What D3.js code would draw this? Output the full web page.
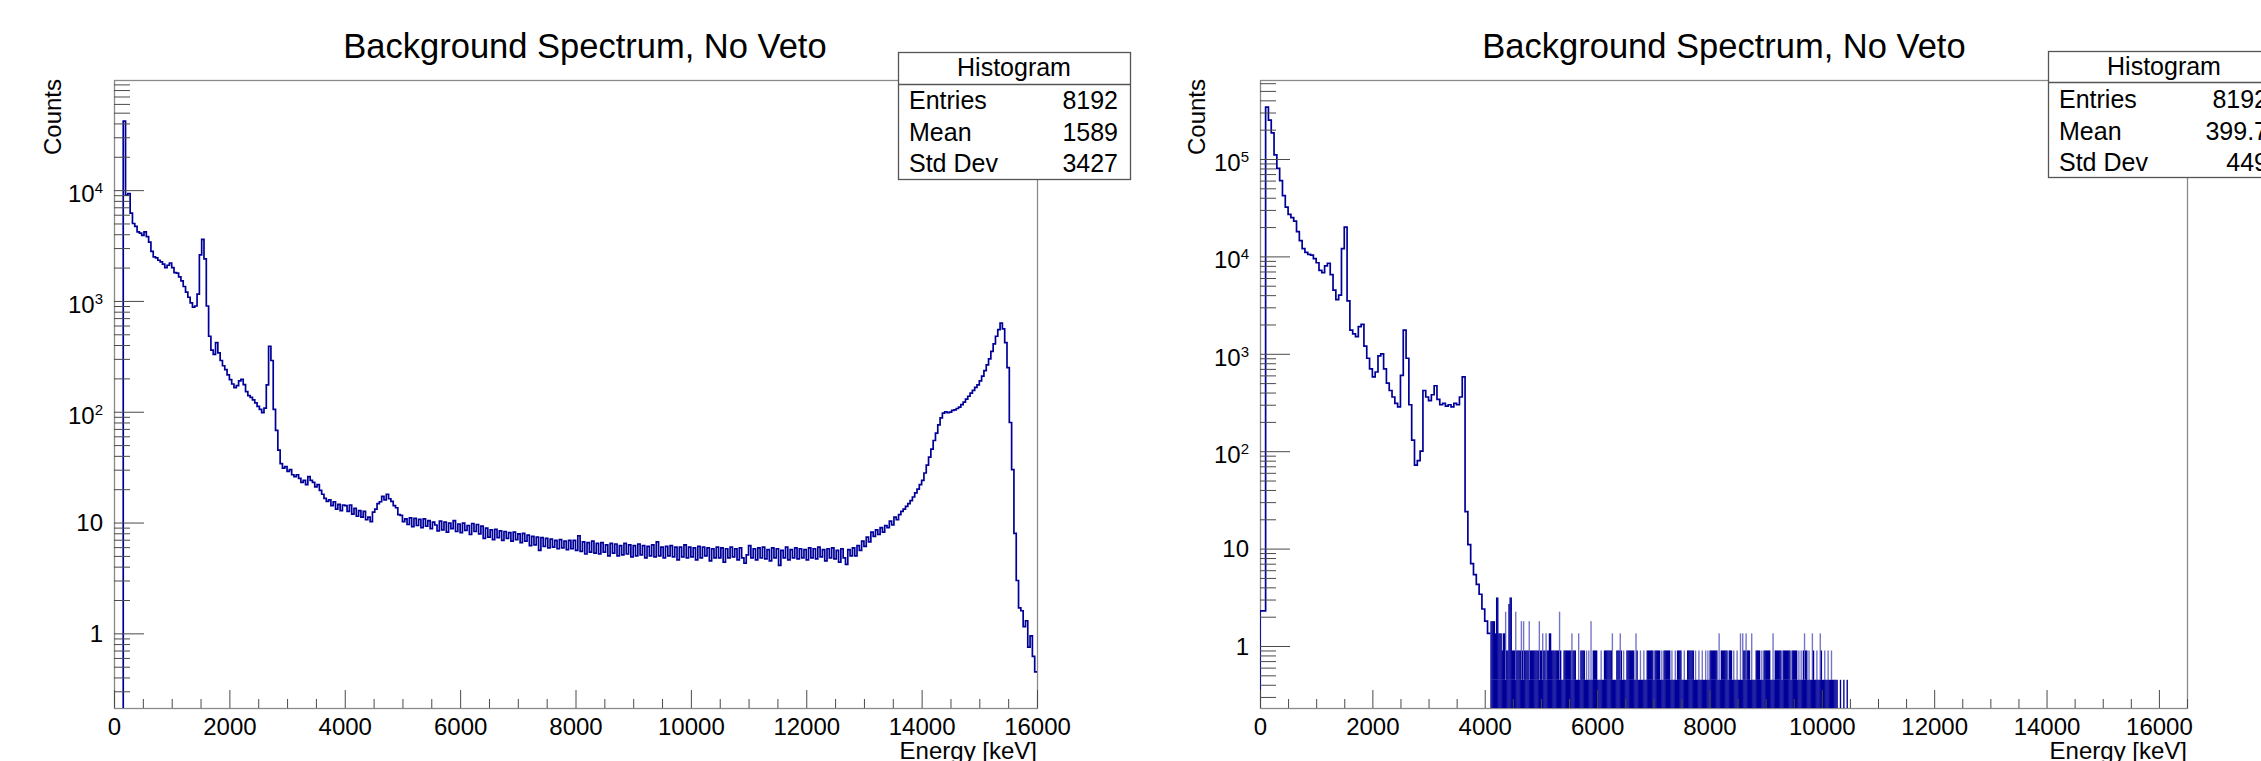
<!DOCTYPE html>
<html><head><meta charset="utf-8">
<script src="https://cdn.jsdelivr.net/npm/d3@7"></script>
<style>
html,body{margin:0;padding:0;background:#fff;}
svg{display:block;}
text{font-family:"Liberation Sans",Arial,Helvetica,sans-serif;fill:#000;}
</style></head><body>
<svg id="c" width="2261" height="761"></svg>
<script>
// ---------------- DATA ----------------
const chartTitle = "Background Spectrum, No Veto";
const xAxisTitle = "Energy [keV]";
const yAxisTitle = "Counts";
const statsHeader = "Histogram";
const xMajorTicks = [0, 2000, 4000, 6000, 8000, 10000, 12000, 14000, 16000];
const xTickLabels = ["0", "2000", "4000", "6000", "8000", "10000", "12000", "14000", "16000"];
const leftYMajor = [1, 10, 100, 1000, 10000];
const rightYMajor = [1, 10, 100, 1000, 10000, 100000];

// Left spectrum (no veto): 40 keV bins from 0 to 16000 keV
const leftBinWidth = 40;
const leftCounts = [
  0,0,0,0,42000,9000,9300,6200,5000,4700,4200,4100,3900,4200,3800,3400,2800,2500,2450,2330,
  2250,2150,2000,2100,2200,2000,1800,1780,1650,1520,1350,1200,1080,960,880,900,1150,2600,3600,2400,
  900,480,360,330,420,340,290,260,240,215,195,178,165,172,190,196,176,152,140,135,
  128,120,112,105,98,108,175,390,290,105,68,45,34,31,32,29,30,27,26,27,
  25,23,24,22,26,24,23,21,22,19.5,18,16.5,15.5,16,14.2,15.4,13.2,14.6,12.8,14.4,
  14.2,12.6,14.4,11.9,13.4,11.4,12.8,11.2,12.6,10.6,11.2,10.2,12.4,13.2,14.8,15.4,17.2,16.0,18.0,16.4,
  15.5,14.2,13.6,11.8,11.6,10.2,10.8,9.6,11.0,9.2,10.9,9.4,10.7,9.0,10.8,9.3,10.4,8.8,10.1,9.5,
  8.4,10.3,8.6,10.1,8.2,9.9,8.8,10.4,8.3,9.7,8.1,9.9,8.5,9.4,7.8,9.8,8.3,9.6,7.9,9.3,
  7.2,8.9,7.4,8.6,7.0,8.7,7.3,8.4,6.9,8.3,7.2,8.1,6.8,8.2,7.0,7.9,6.6,8.0,6.8,7.7,
  6.2,7.5,6.3,7.4,5.6,7.3,6.1,7.2,5.9,7.1,6.0,6.9,5.8,7.0,5.9,6.8,5.7,6.9,5.8,6.9,
  5.6,7.6,5.5,6.7,5.2,6.6,5.4,6.8,5.3,6.5,5.2,6.6,5.4,6.3,5.0,6.5,5.3,6.4,5.0,6.2,
  5.1,6.5,5.2,6.3,4.9,6.2,5.0,6.4,5.1,6.2,4.8,6.1,5.0,6.3,4.9,6.7,5.0,6.0,4.8,6.1,
  5.0,6.2,4.9,6.0,4.6,6.0,4.9,6.3,4.8,6.0,4.9,5.9,4.6,6.1,4.8,6.0,5.0,5.9,4.5,5.8,
  4.8,6.0,4.8,5.9,4.4,5.8,4.8,6.0,4.9,5.8,4.6,5.9,4.8,4.3,5.1,6.2,4.8,5.8,4.6,5.9,
  4.8,6.0,4.7,5.7,4.5,5.9,4.8,5.8,4.1,5.6,4.8,6.0,4.6,5.7,4.8,5.9,4.7,5.8,4.8,5.7,
  4.6,5.9,4.8,5.8,4.7,6.0,4.9,5.7,4.5,5.8,4.8,5.9,4.7,5.6,4.4,5.8,4.8,4.2,5.7,5.0,
  5.9,5.0,6.2,5.6,6.8,6.1,7.4,6.7,8.2,7.5,8.6,7.8,9.0,8.2,9.4,9.0,10.3,9.5,11.2,10.6,
  11.8,12.6,13.2,14,14.8,15.8,17,18.5,20,22,24,28,33,39,46,55,64,76,88,97,
  100,98,99,103,104,107,110,116,122,130,138,147,156,166,175,190,210,235,265,300,
  350,410,480,550,630,560,420,250,80,30,8,3,1.7,1.6,1.15,1.3,0.75,0.95,0.62,0.45
];
const leftStatLabels = ["Entries", "Mean", "Std Dev"];
const leftStatValues = ["8192", "1589", "3427"];

// Right spectrum: 50 keV bins from 0 to 4100 keV
const rightBinWidth = 50;
const rightCounts = [
  2.3,2.3,340000,250000,185000,110000,80000,60000,42000,32000,
  27000,25000,23000,18000,14500,12000,11000,10500,10300,9500,
  8600,7200,6800,8000,8500,6500,4500,3600,4000,12000,
  20000,3500,1750,1600,1500,1900,2000,1200,900,700,
  580,650,950,1000,700,500,420,360,310,285,
  600,1750,900,300,130,72,80,100,420,360,
  330,380,470,340,300,310,290,300,285,310,
  300,360,580,24,11,7,5.4,4.3,3.4,2.4,
  1.8,1.35
];
// Right spectrum tail: 20 keV columns from 4100 keV, level = count / 0.45
const rightTailStart = 4100;
const rightTailBinWidth = 20;
const rightTailUnit = 0.45;
const rightTailLevels = [
  4,4,4,4,3,7,7,3,3,3,2,3,3,5,2,2,6,7,7,2,
  2,2,5,2,2,2,2,4,2,4,2,2,2,2,4,2,2,2,2,2,
  2,2,2,4,2,2,3,2,2,3,2,2,3,3,2,2,2,2,2,2,
  2,5,2,1,1,2,2,2,2,2,2,2,3,2,2,2,1,1,3,1,
  2,2,2,2,1,2,1,2,1,4,1,2,2,2,2,1,1,1,2,1,
  1,2,2,2,2,2,2,2,3,1,1,1,2,2,2,3,2,1,2,1,
  1,2,2,2,2,2,2,2,1,3,2,1,1,2,1,1,2,1,1,2,
  2,2,2,2,2,1,2,2,2,2,2,1,2,1,2,2,2,2,2,2,
  1,2,1,1,2,1,2,2,2,2,1,1,2,1,1,2,2,2,2,2,
  2,1,2,1,1,2,1,1,2,1,1,2,1,2,1,2,2,2,2,2,
  2,2,1,3,1,2,2,2,2,2,2,1,2,2,2,1,2,1,1,2,
  1,1,3,1,3,2,2,3,2,2,2,1,3,1,1,1,2,2,2,2,
  1,2,1,2,2,2,2,2,2,1,1,3,1,2,2,2,2,2,2,1,
  2,2,2,2,2,2,2,1,2,2,2,2,2,1,2,1,2,1,2,3,
  2,2,1,2,1,1,3,2,1,1,2,1,1,3,2,1,1,2,1,1,
  2,1,1,2,1,1,1,1,1,0,0,1,0,0,1,0,0,1,0,0
];
const rightStatLabels = ["Entries", "Mean", "Std Dev"];
const rightStatValues = ["8192", "399.7", "449"];

// ---------------- LAYOUT ----------------
const panels = [
  { frame: {x0: 114, x1: 1037, y0: 80, y1: 708}, xDomain: [0, 16000], yDomain: [0.212, 98600],
    titleX: 585, countsX: 61, yMajor: leftYMajor,
    box: {x: 898, w: 232, top: 52, sep: 84, bottom: 179, dy: 0},
    statLabels: leftStatLabels, statValues: leftStatValues,
    counts: leftCounts, binWidth: leftBinWidth, tail: null },
  { frame: {x0: 1260, x1: 2187, y0: 80, y1: 708}, xDomain: [0, 16500], yDomain: [0.231, 647000],
    titleX: 1724, countsX: 1205, yMajor: rightYMajor,
    box: {x: 2048, w: 232, top: 51, sep: 82, bottom: 177, dy: -1},
    statLabels: rightStatLabels, statValues: rightStatValues,
    counts: rightCounts, binWidth: rightBinWidth,
    tail: {start: rightTailStart, w: rightTailBinWidth, unit: rightTailUnit, levels: rightTailLevels} }
];

const svg = d3.select("#c");
const LINE = "#000099";
const FRAME = "#8a8a8a";
const TICK = "#4a4a4a";

panels.forEach((p, pi) => {
  const f = p.frame;
  const x = d3.scaleLinear().domain(p.xDomain).range([f.x0, f.x1]);
  const y = d3.scaleLog().domain(p.yDomain).range([f.y1, f.y0]);
  const g = svg.append("g");

  const clipId = "clip" + pi;
  svg.append("clipPath").attr("id", clipId).append("rect")
    .attr("x", f.x0).attr("y", f.y0).attr("width", f.x1 - f.x0).attr("height", f.y1 - f.y0);

  g.append("rect").attr("x", f.x0 + 0.5).attr("y", f.y0 + 0.5)
    .attr("width", f.x1 - f.x0).attr("height", f.y1 - f.y0)
    .attr("fill", "none").attr("stroke", FRAME).attr("stroke-width", 1.3);

  const yv = v => v > 0 ? y(Math.max(v, p.yDomain[0] * 0.5)) : f.y1 + 6;

  const c = p.counts, w = p.binWidth;
  let d = "M" + x(0) + "," + (f.y1 + 6) + "V" + yv(c[0]);
  for (let k = 0; k < c.length; k++) {
    d += "H" + x((k + 1) * w);
    if (k + 1 < c.length) d += "V" + yv(c[k + 1]);
  }
  const hg = g.append("g").attr("clip-path", "url(#" + clipId + ")");
  hg.append("path").attr("d", d).attr("fill", "none")
    .attr("stroke", LINE).attr("stroke-width", 1.7).attr("stroke-linejoin", "miter");

  if (p.tail) {
    const t = p.tail;
    t.levels.forEach((n, j) => {
      if (n <= 0) return;
      const e0 = t.start + j * t.w, e1 = e0 + t.w;
      const xa = x(e0), xb = x(e1);
      hg.append("rect").attr("x", xa).attr("width", xb - xa + 0.25)
        .attr("y", y(t.unit)).attr("height", f.y1 - y(t.unit)).attr("fill", LINE);
      if (n > 1) {
        const prev = j > 0 ? t.levels[j - 1] : 0, next = j + 1 < t.levels.length ? t.levels[j + 1] : 0;
        const isolated = prev < n && next < n;
        hg.append("rect").attr("x", xa).attr("width", xb - xa + 0.25)
          .attr("y", y(n * t.unit)).attr("height", y(t.unit) - y(n * t.unit))
          .attr("fill", LINE).attr("fill-opacity", isolated ? 0.55 : 1);
      }
    });
  }

  const xMinor = d3.range(p.xDomain[0], p.xDomain[1] + 1, 500).filter(v => v % 2000 !== 0);
  const xa = g.append("g").attr("transform", "translate(0," + f.y1 + ")")
    .call(d3.axisBottom(x).tickValues(xMajorTicks).tickSize(-18).tickSizeOuter(0).tickPadding(10)
      .tickFormat((v, i) => xTickLabels[i]));
  xa.select(".domain").remove();
  xa.selectAll("line").attr("stroke", TICK);
  xa.selectAll("text").attr("font-size", 24).attr("font-family", "Liberation Sans, Arial, sans-serif").attr("fill", "#000");
  const xm = g.append("g").attr("transform", "translate(0," + f.y1 + ")")
    .call(d3.axisBottom(x).tickValues(xMinor).tickSize(-9).tickSizeOuter(0).tickFormat(""));
  xm.select(".domain").remove();
  xm.selectAll("line").attr("stroke", TICK);

  const yMinor = [];
  for (let e = -1; e <= 6; e++) for (let m = 2; m <= 9; m++) {
    const v = m * Math.pow(10, e);
    if (v >= p.yDomain[0] && v <= p.yDomain[1]) yMinor.push(v);
  }
  const ya = g.append("g").attr("transform", "translate(" + f.x0 + ",0)")
    .call(d3.axisLeft(y).tickValues(p.yMajor).tickSize(-30).tickSizeOuter(0).tickFormat(""));
  ya.select(".domain").remove();
  ya.selectAll("line").attr("stroke", TICK);
  const ym = g.append("g").attr("transform", "translate(" + f.x0 + ",0)")
    .call(d3.axisLeft(y).tickValues(yMinor).tickSize(-16).tickSizeOuter(0).tickFormat(""));
  ym.select(".domain").remove();
  ym.selectAll("line").attr("stroke", TICK);

  p.yMajor.forEach(v => {
    const e = Math.round(Math.log10(v));
    const ty = y(v);
    if (e <= 1) {
      g.append("text").attr("x", f.x0 - 11).attr("y", ty + 8.5).attr("text-anchor", "end")
        .attr("font-size", 24).text(String(v));
    } else {
      const t = g.append("text").attr("x", f.x0 - 11).attr("y", ty + 12).attr("text-anchor", "end")
        .attr("font-size", 24);
      t.append("tspan").text("10");
      t.append("tspan").attr("font-size", 15).attr("dy", -9).text(String(e));
    }
  });

  g.append("text").attr("x", f.x1).attr("y", 759).attr("text-anchor", "end")
    .attr("font-size", 24).text(xAxisTitle);
  g.append("text").attr("transform", "translate(" + p.countsX + "," + (f.y0 - 1) + ") rotate(-90)")
    .attr("text-anchor", "end").attr("font-size", 24).text(yAxisTitle);

  g.append("text").attr("x", p.titleX).attr("y", 58).attr("text-anchor", "middle")
    .attr("font-size", 34.5).text(chartTitle);

  const b = p.box;
  const bg = svg.append("g");
  bg.append("rect").attr("x", b.x + 0.5).attr("y", b.top + 0.5).attr("width", b.w).attr("height", b.bottom - b.top)
    .attr("fill", "#fff").attr("stroke", "#555").attr("stroke-width", 1.3);
  bg.append("line").attr("x1", b.x).attr("x2", b.x + b.w).attr("y1", b.sep + 0.5).attr("y2", b.sep + 0.5)
    .attr("stroke", "#555").attr("stroke-width", 1.3);
  bg.append("text").attr("x", b.x + b.w / 2).attr("y", 76 + b.dy).attr("text-anchor", "middle")
    .attr("font-size", 25).text(statsHeader);
  p.statLabels.forEach((lab, i) => {
    const by = 109 + i * 31.5 + b.dy;
    bg.append("text").attr("x", b.x + 11).attr("y", by).attr("font-size", 25).text(lab);
    bg.append("text").attr("x", b.x + b.w - 12).attr("y", by).attr("text-anchor", "end")
      .attr("font-size", 25).text(p.statValues[i]);
  });
});
</script>
</body></html>
